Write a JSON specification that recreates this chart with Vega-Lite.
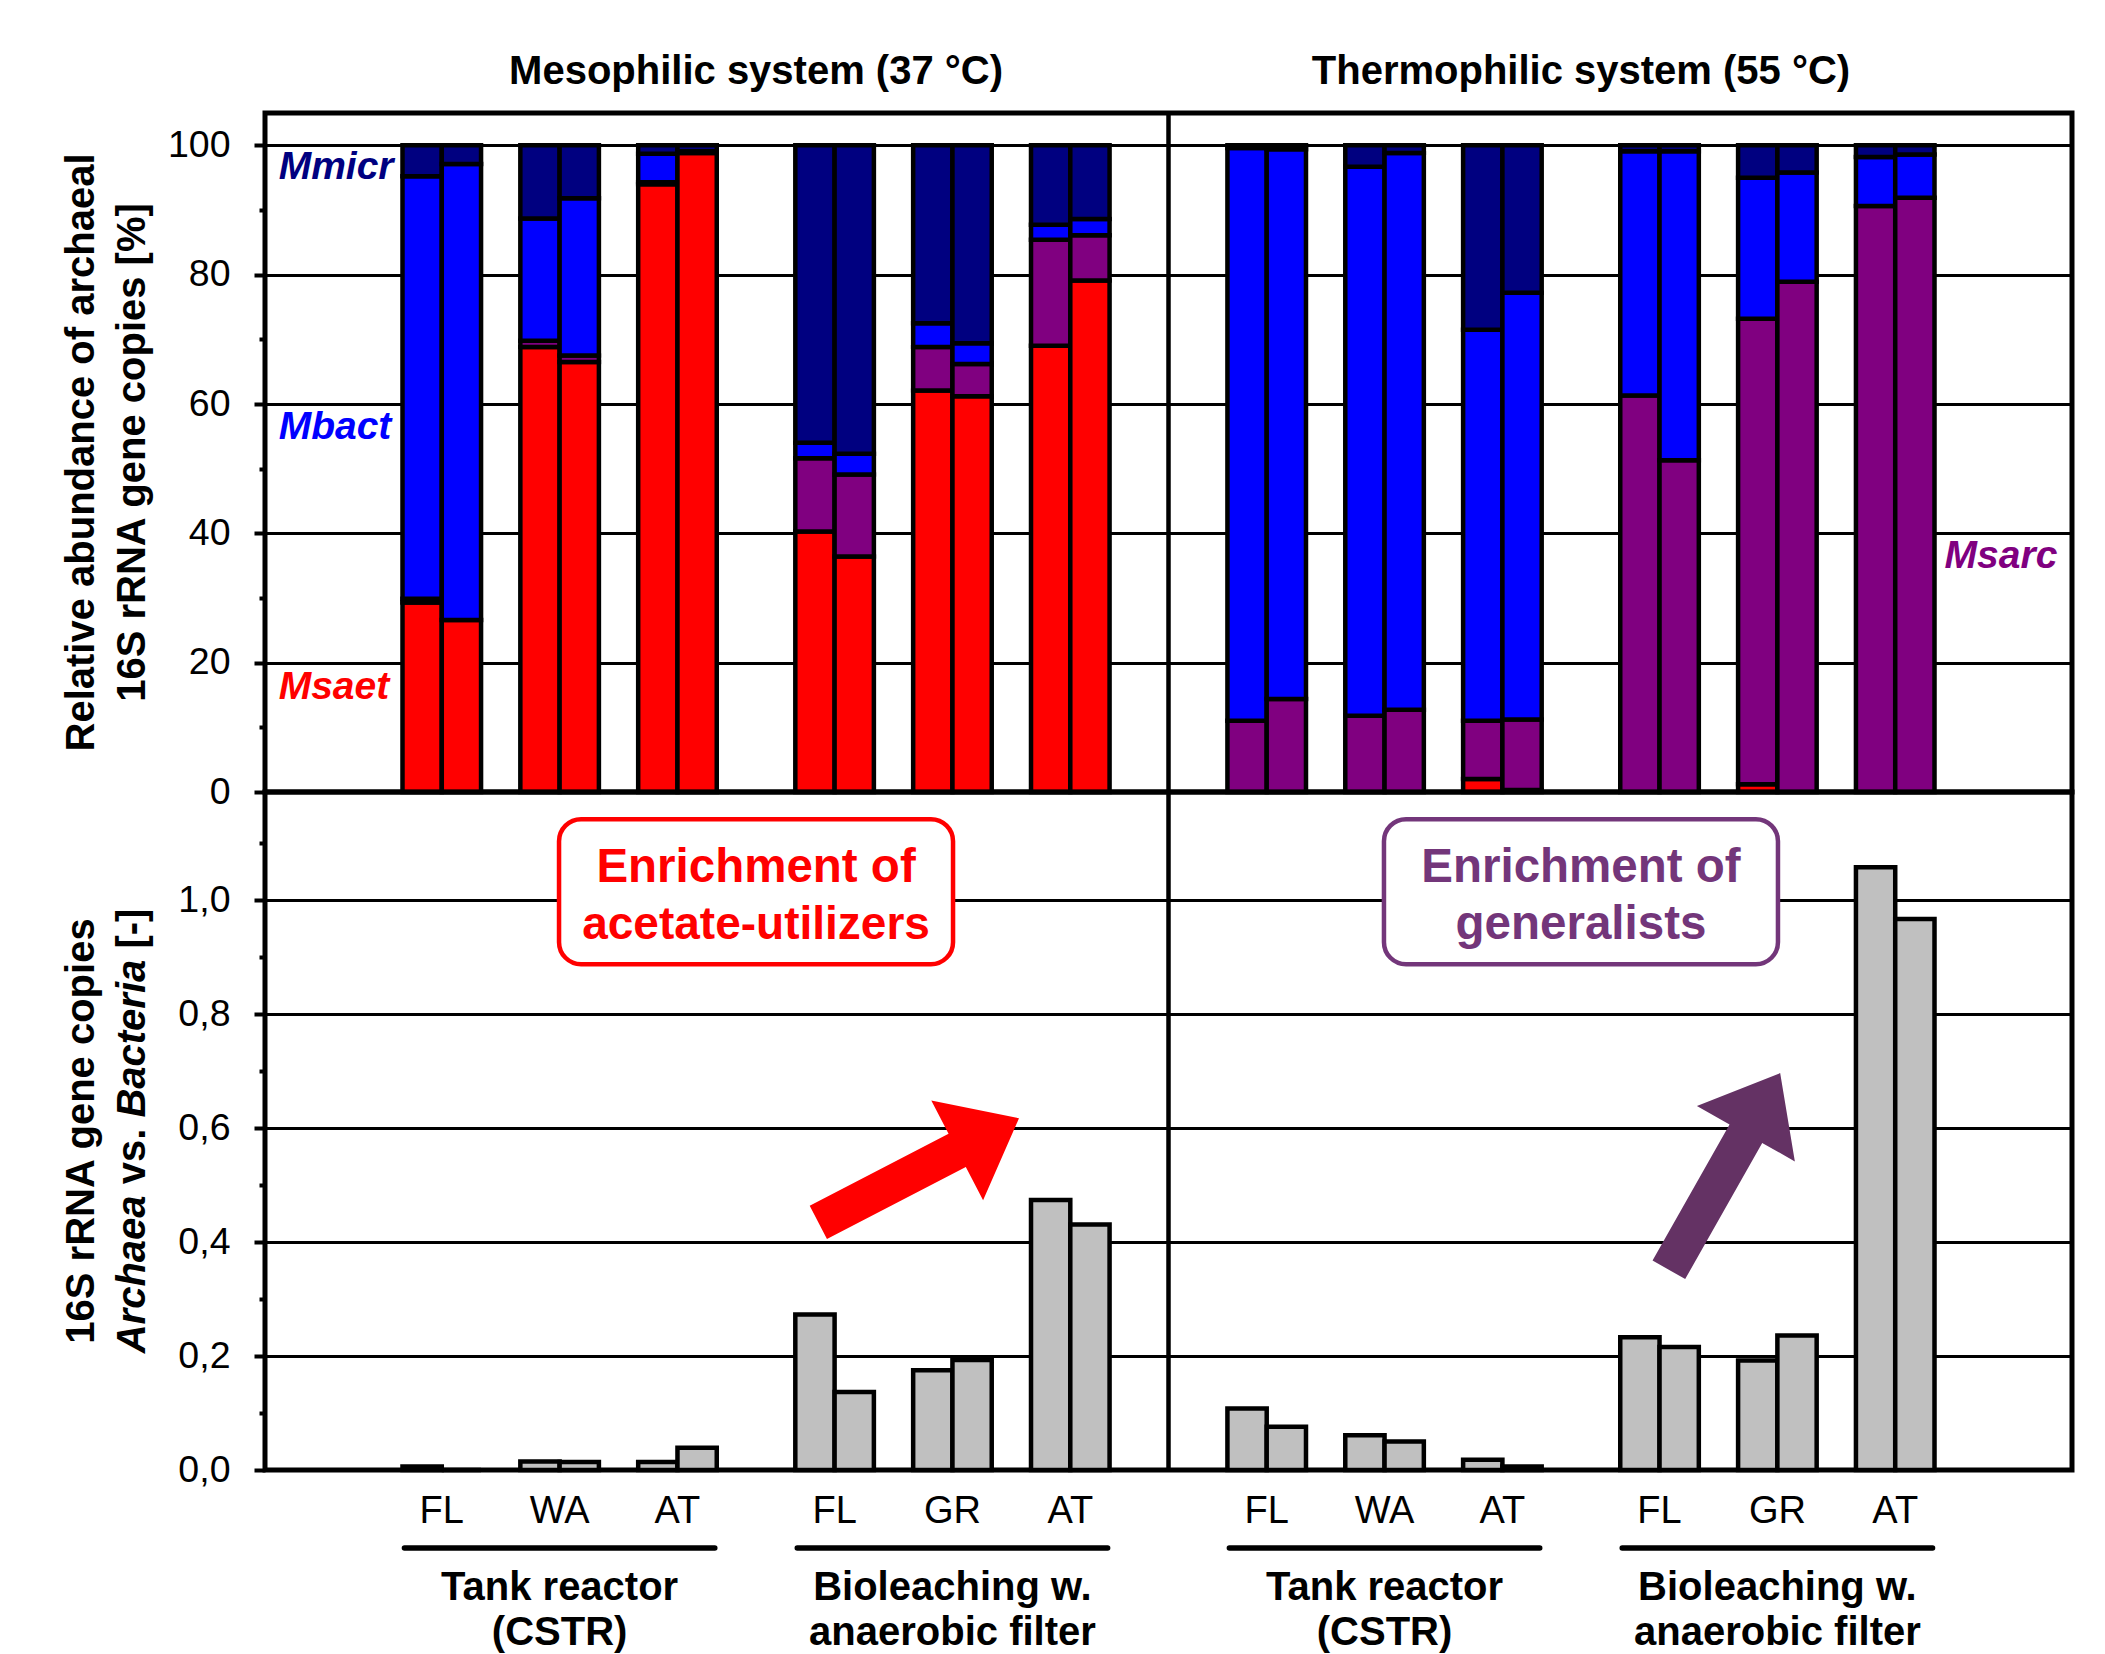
{
  "$schema": "https://vega.github.io/schema/vega-lite/v6.json",
  "background": "white",
  "padding": {"left": 59, "top": 49, "right": 10, "bottom": 0},
  "spacing": 0,
  "bounds": "flush",
  "config": {
    "font": "Liberation Sans",
    "view": {"stroke": "black", "strokeWidth": 5}
  },
  "datasets": {
    "comp": [
      {"bar": "M-T-FL-1", "species": "Msaet", "pct": 29.3},
      {"bar": "M-T-FL-1", "species": "Msarc", "pct": 0.6},
      {"bar": "M-T-FL-1", "species": "Mbact", "pct": 65.3},
      {"bar": "M-T-FL-1", "species": "Mmicr", "pct": 4.8},
      {"bar": "M-T-FL-2", "species": "Msaet", "pct": 26.6},
      {"bar": "M-T-FL-2", "species": "Mbact", "pct": 70.5},
      {"bar": "M-T-FL-2", "species": "Mmicr", "pct": 2.9},
      {"bar": "M-T-WA-1", "species": "Msaet", "pct": 68.8},
      {"bar": "M-T-WA-1", "species": "Msarc", "pct": 1.0},
      {"bar": "M-T-WA-1", "species": "Mbact", "pct": 18.9},
      {"bar": "M-T-WA-1", "species": "Mmicr", "pct": 11.3},
      {"bar": "M-T-WA-2", "species": "Msaet", "pct": 66.5},
      {"bar": "M-T-WA-2", "species": "Msarc", "pct": 1.0},
      {"bar": "M-T-WA-2", "species": "Mbact", "pct": 24.3},
      {"bar": "M-T-WA-2", "species": "Mmicr", "pct": 8.2},
      {"bar": "M-T-AT-1", "species": "Msaet", "pct": 94.0},
      {"bar": "M-T-AT-1", "species": "Msarc", "pct": 0.3},
      {"bar": "M-T-AT-1", "species": "Mbact", "pct": 4.4},
      {"bar": "M-T-AT-1", "species": "Mmicr", "pct": 1.3},
      {"bar": "M-T-AT-2", "species": "Msaet", "pct": 98.8},
      {"bar": "M-T-AT-2", "species": "Mbact", "pct": 0.3},
      {"bar": "M-T-AT-2", "species": "Mmicr", "pct": 0.9},
      {"bar": "M-B-FL-1", "species": "Msaet", "pct": 40.3},
      {"bar": "M-B-FL-1", "species": "Msarc", "pct": 11.3},
      {"bar": "M-B-FL-1", "species": "Mbact", "pct": 2.4},
      {"bar": "M-B-FL-1", "species": "Mmicr", "pct": 46.0},
      {"bar": "M-B-FL-2", "species": "Msaet", "pct": 36.4},
      {"bar": "M-B-FL-2", "species": "Msarc", "pct": 12.7},
      {"bar": "M-B-FL-2", "species": "Mbact", "pct": 3.2},
      {"bar": "M-B-FL-2", "species": "Mmicr", "pct": 47.7},
      {"bar": "M-B-GR-1", "species": "Msaet", "pct": 62.1},
      {"bar": "M-B-GR-1", "species": "Msarc", "pct": 6.7},
      {"bar": "M-B-GR-1", "species": "Mbact", "pct": 3.7},
      {"bar": "M-B-GR-1", "species": "Mmicr", "pct": 27.5},
      {"bar": "M-B-GR-2", "species": "Msaet", "pct": 61.2},
      {"bar": "M-B-GR-2", "species": "Msarc", "pct": 5.0},
      {"bar": "M-B-GR-2", "species": "Mbact", "pct": 3.2},
      {"bar": "M-B-GR-2", "species": "Mmicr", "pct": 30.6},
      {"bar": "M-B-AT-1", "species": "Msaet", "pct": 69.0},
      {"bar": "M-B-AT-1", "species": "Msarc", "pct": 16.4},
      {"bar": "M-B-AT-1", "species": "Mbact", "pct": 2.3},
      {"bar": "M-B-AT-1", "species": "Mmicr", "pct": 12.3},
      {"bar": "M-B-AT-2", "species": "Msaet", "pct": 79.1},
      {"bar": "M-B-AT-2", "species": "Msarc", "pct": 7.0},
      {"bar": "M-B-AT-2", "species": "Mbact", "pct": 2.5},
      {"bar": "M-B-AT-2", "species": "Mmicr", "pct": 11.4},
      {"bar": "T-T-FL-1", "species": "Msarc", "pct": 11.0},
      {"bar": "T-T-FL-1", "species": "Mbact", "pct": 88.6},
      {"bar": "T-T-FL-1", "species": "Mmicr", "pct": 0.4},
      {"bar": "T-T-FL-2", "species": "Msarc", "pct": 14.4},
      {"bar": "T-T-FL-2", "species": "Mbact", "pct": 85.0},
      {"bar": "T-T-FL-2", "species": "Mmicr", "pct": 0.6},
      {"bar": "T-T-WA-1", "species": "Msarc", "pct": 11.8},
      {"bar": "T-T-WA-1", "species": "Mbact", "pct": 84.9},
      {"bar": "T-T-WA-1", "species": "Mmicr", "pct": 3.3},
      {"bar": "T-T-WA-2", "species": "Msarc", "pct": 12.7},
      {"bar": "T-T-WA-2", "species": "Mbact", "pct": 86.1},
      {"bar": "T-T-WA-2", "species": "Mmicr", "pct": 1.2},
      {"bar": "T-T-AT-1", "species": "Msaet", "pct": 2.0},
      {"bar": "T-T-AT-1", "species": "Msarc", "pct": 9.0},
      {"bar": "T-T-AT-1", "species": "Mbact", "pct": 60.5},
      {"bar": "T-T-AT-1", "species": "Mmicr", "pct": 28.5},
      {"bar": "T-T-AT-2", "species": "Msaet", "pct": 0.3},
      {"bar": "T-T-AT-2", "species": "Msarc", "pct": 10.9},
      {"bar": "T-T-AT-2", "species": "Mbact", "pct": 66.0},
      {"bar": "T-T-AT-2", "species": "Mmicr", "pct": 22.8},
      {"bar": "T-B-FL-1", "species": "Msarc", "pct": 61.3},
      {"bar": "T-B-FL-1", "species": "Mbact", "pct": 37.8},
      {"bar": "T-B-FL-1", "species": "Mmicr", "pct": 0.9},
      {"bar": "T-B-FL-2", "species": "Msarc", "pct": 51.3},
      {"bar": "T-B-FL-2", "species": "Mbact", "pct": 47.8},
      {"bar": "T-B-FL-2", "species": "Mmicr", "pct": 0.9},
      {"bar": "T-B-GR-1", "species": "Msaet", "pct": 1.2},
      {"bar": "T-B-GR-1", "species": "Msarc", "pct": 72.0},
      {"bar": "T-B-GR-1", "species": "Mbact", "pct": 21.8},
      {"bar": "T-B-GR-1", "species": "Mmicr", "pct": 5.0},
      {"bar": "T-B-GR-2", "species": "Msarc", "pct": 78.9},
      {"bar": "T-B-GR-2", "species": "Mbact", "pct": 16.9},
      {"bar": "T-B-GR-2", "species": "Mmicr", "pct": 4.2},
      {"bar": "T-B-AT-1", "species": "Msarc", "pct": 90.6},
      {"bar": "T-B-AT-1", "species": "Mbact", "pct": 7.6},
      {"bar": "T-B-AT-1", "species": "Mmicr", "pct": 1.8},
      {"bar": "T-B-AT-2", "species": "Msarc", "pct": 91.9},
      {"bar": "T-B-AT-2", "species": "Mbact", "pct": 6.7},
      {"bar": "T-B-AT-2", "species": "Mmicr", "pct": 1.4}
    ],
    "ratio": [
      {"bar": "M-T-FL-1", "ratio": 0.006},
      {"bar": "M-T-FL-2", "ratio": 0.0},
      {"bar": "M-T-WA-1", "ratio": 0.015},
      {"bar": "M-T-WA-2", "ratio": 0.014},
      {"bar": "M-T-AT-1", "ratio": 0.014},
      {"bar": "M-T-AT-2", "ratio": 0.039},
      {"bar": "M-B-FL-1", "ratio": 0.273},
      {"bar": "M-B-FL-2", "ratio": 0.137},
      {"bar": "M-B-GR-1", "ratio": 0.175},
      {"bar": "M-B-GR-2", "ratio": 0.193},
      {"bar": "M-B-AT-1", "ratio": 0.474},
      {"bar": "M-B-AT-2", "ratio": 0.431},
      {"bar": "T-T-FL-1", "ratio": 0.108},
      {"bar": "T-T-FL-2", "ratio": 0.076},
      {"bar": "T-T-WA-1", "ratio": 0.061},
      {"bar": "T-T-WA-2", "ratio": 0.05},
      {"bar": "T-T-AT-1", "ratio": 0.018},
      {"bar": "T-T-AT-2", "ratio": 0.006},
      {"bar": "T-B-FL-1", "ratio": 0.233},
      {"bar": "T-B-FL-2", "ratio": 0.216},
      {"bar": "T-B-GR-1", "ratio": 0.192},
      {"bar": "T-B-GR-2", "ratio": 0.236},
      {"bar": "T-B-AT-1", "ratio": 1.058},
      {"bar": "T-B-AT-2", "ratio": 0.967}
    ],
    "cats": [
      {"at": "M-T-FL-2", "label": "FL"},
      {"at": "M-T-WA-2", "label": "WA"},
      {"at": "M-T-AT-2", "label": "AT"},
      {"at": "M-B-FL-2", "label": "FL"},
      {"at": "M-B-GR-2", "label": "GR"},
      {"at": "M-B-AT-2", "label": "AT"},
      {"at": "T-T-FL-2", "label": "FL"},
      {"at": "T-T-WA-2", "label": "WA"},
      {"at": "T-T-AT-2", "label": "AT"},
      {"at": "T-B-FL-2", "label": "FL"},
      {"at": "T-B-GR-2", "label": "GR"},
      {"at": "T-B-AT-2", "label": "AT"}
    ],
    "groups": [
      {"from": "M-T-FL-1", "to": "M-T-AT-2", "at": "M-T-WA-2", "l1": "Tank reactor", "l2": "(CSTR)"},
      {"from": "M-B-FL-1", "to": "M-B-AT-2", "at": "M-B-GR-2", "l1": "Bioleaching w.", "l2": "anaerobic filter"},
      {"from": "T-T-FL-1", "to": "T-T-AT-2", "at": "T-T-WA-2", "l1": "Tank reactor", "l2": "(CSTR)"},
      {"from": "T-B-FL-1", "to": "T-B-AT-2", "at": "T-B-GR-2", "l1": "Bioleaching w.", "l2": "anaerobic filter"}
    ]
  },
  "vconcat": [
    {
      "width": 1807,
      "height": 679,
      "layer": [
        {
          "data": {"name": "comp"},
          "transform": [{"calculate": "indexof(['Msaet','Msarc','Mbact','Mmicr'], datum.species)", "as": "stackOrder"}],
          "mark": {"type": "bar", "stroke": "black", "strokeWidth": 4.5},
          "encoding": {
            "x": {"field": "bar", "type": "nominal", "axis": null,
              "scale": {"domain": ["s1","s2","s3","M-T-FL-1","M-T-FL-2","M-g1","M-T-WA-1","M-T-WA-2","M-g2","M-T-AT-1","M-T-AT-2","M-g3","M-g4","M-B-FL-1","M-B-FL-2","M-g5","M-B-GR-1","M-B-GR-2","M-g6","M-B-AT-1","M-B-AT-2","M-g7","mid","T-g0","T-T-FL-1","T-T-FL-2","T-g1","T-T-WA-1","T-T-WA-2","T-g2","T-T-AT-1","T-T-AT-2","T-g3","T-g4","T-B-FL-1","T-B-FL-2","T-g5","T-B-GR-1","T-B-GR-2","T-g6","T-B-AT-1","T-B-AT-2","s4","s5","s6"], "paddingInner": 0, "paddingOuter": 0.5}},
            "y": {"field": "pct", "type": "quantitative", "stack": "zero", "title": null,
              "scale": {"domain": [0, 105], "nice": false, "zero": true},
              "axis": {
                "values": [0,10,20,30,40,50,60,70,80,90,100],
                "domain": false,
                "grid": true, "gridColor": "black", "gridWidth": 3,
                "gridOpacity": {"condition": {"test": "datum.value % 20 === 0 && datum.value > 0", "value": 1}, "value": 0},
                "ticks": true, "tickColor": "black", "tickWidth": 4,
                "tickSize": {"condition": {"test": "datum.value % 20 === 0", "value": 11}, "value": 6},
                "labelExpr": "datum.value % 20 === 0 ? datum.label : ''",
                "labelFont": "Liberation Sans", "labelFontSize": 37.5, "labelColor": "black",
                "labelPadding": 24, "labelOverlap": false, "title": null
              }},
            "color": {"field": "species", "type": "nominal", "legend": null,
              "scale": {"domain": ["Msaet","Msarc","Mbact","Mmicr"], "range": ["#FF0000","#800080","#0000FF","#000080"]}},
            "order": {"field": "stackOrder", "type": "quantitative"}
          }
        },
        {
          "data": {"values": [{}]},
          "mark": {"type": "rule", "strokeWidth": 4.5, "color": "black"},
          "encoding": {"x": {"datum": "mid", "bandPosition": 0.5, "axis": null}}
        },
        {
          "data": {"values": [{}]},
          "mark": {"type": "text", "text": "Mesophilic system (37 °C)", "fontSize": 40, "fontWeight": "bold", "color": "black", "align": "center", "baseline": "middle", "dy": -41},
          "encoding": {"x": {"datum": "M-g4", "bandPosition": 0, "axis": null}, "y": {"datum": 105, "title": null}}
        },
        {
          "data": {"values": [{}]},
          "mark": {"type": "text", "text": "Thermophilic system (55 °C)", "fontSize": 40, "fontWeight": "bold", "color": "black", "align": "center", "baseline": "middle", "dy": -41},
          "encoding": {"x": {"datum": "T-g4", "bandPosition": 0, "axis": null}, "y": {"datum": 105, "title": null}}
        },
        {
          "data": {"values": [{}]},
          "mark": {"type": "text", "text": "Mmicr", "fontSize": 39, "fontWeight": "bold", "fontStyle": "italic", "color": "#000080", "align": "left", "baseline": "middle", "dx": -6},
          "encoding": {"x": {"datum": "s1", "bandPosition": 0, "axis": null}, "y": {"datum": 96.7, "title": null}}
        },
        {
          "data": {"values": [{}]},
          "mark": {"type": "text", "text": "Mbact", "fontSize": 39, "fontWeight": "bold", "fontStyle": "italic", "color": "#0000FF", "align": "left", "baseline": "middle", "dx": -6},
          "encoding": {"x": {"datum": "s1", "bandPosition": 0, "axis": null}, "y": {"datum": 56.4, "title": null}}
        },
        {
          "data": {"values": [{}]},
          "mark": {"type": "text", "text": "Msaet", "fontSize": 39, "fontWeight": "bold", "fontStyle": "italic", "color": "#FF0000", "align": "left", "baseline": "middle", "dx": -6},
          "encoding": {"x": {"datum": "s1", "bandPosition": 0, "axis": null}, "y": {"datum": 16.2, "title": null}}
        },
        {
          "data": {"values": [{}]},
          "mark": {"type": "text", "text": "Msarc", "fontSize": 39, "fontWeight": "bold", "fontStyle": "italic", "color": "#800080", "align": "right", "baseline": "middle", "dx": 5},
          "encoding": {"x": {"datum": "s6", "bandPosition": 1, "axis": null}, "y": {"datum": 36.5, "title": null}}
        },
        {
          "data": {"values": [{}]},
          "mark": {"type": "text", "text": "Relative abundance of archaeal", "fontSize": 40, "fontWeight": "bold", "color": "black", "align": "center", "baseline": "middle", "angle": 270, "dy": -203},
          "encoding": {"x": {"datum": "s1", "bandPosition": 0, "axis": null}, "y": {"datum": 52.5, "title": null}}
        },
        {
          "data": {"values": [{}]},
          "mark": {"type": "text", "text": "16S rRNA gene copies [%]", "fontSize": 40, "fontWeight": "bold", "color": "black", "align": "center", "baseline": "middle", "angle": 270, "dy": -152},
          "encoding": {"x": {"datum": "s1", "bandPosition": 0, "axis": null}, "y": {"datum": 52.5, "title": null}}
        }
      ]
    },
    {
      "width": 1807,
      "height": 678,
      "layer": [
        {
          "data": {"name": "ratio"},
          "mark": {"type": "bar", "fill": "#C0C0C0", "stroke": "black", "strokeWidth": 4.5},
          "encoding": {
            "x": {"field": "bar", "type": "nominal", "axis": null,
              "scale": {"domain": ["s1","s2","s3","M-T-FL-1","M-T-FL-2","M-g1","M-T-WA-1","M-T-WA-2","M-g2","M-T-AT-1","M-T-AT-2","M-g3","M-g4","M-B-FL-1","M-B-FL-2","M-g5","M-B-GR-1","M-B-GR-2","M-g6","M-B-AT-1","M-B-AT-2","M-g7","mid","T-g0","T-T-FL-1","T-T-FL-2","T-g1","T-T-WA-1","T-T-WA-2","T-g2","T-T-AT-1","T-T-AT-2","T-g3","T-g4","T-B-FL-1","T-B-FL-2","T-g5","T-B-GR-1","T-B-GR-2","T-g6","T-B-AT-1","T-B-AT-2","s4","s5","s6"], "paddingInner": 0, "paddingOuter": 0.5}},
            "y": {"field": "ratio", "type": "quantitative", "title": null,
              "scale": {"domain": [0, 1.19], "nice": false, "zero": true},
              "axis": {
                "values": [0,0.1,0.2,0.3,0.4,0.5,0.6,0.7,0.8,0.9,1.0,1.1],
                "domain": false,
                "grid": true, "gridColor": "black", "gridWidth": 3,
                "gridOpacity": {"condition": {"test": "round(datum.value*10) % 2 === 0 && datum.value > 0", "value": 1}, "value": 0},
                "ticks": true, "tickColor": "black", "tickWidth": 4,
                "tickSize": {"condition": {"test": "round(datum.value*10) % 2 === 0", "value": 11}, "value": 6},
                "labelExpr": "round(datum.value*10) % 2 === 0 ? replace(format(datum.value, '.1f'), '.', ',') : ''",
                "labelFont": "Liberation Sans", "labelFontSize": 37.5, "labelColor": "black",
                "labelPadding": 24, "labelOverlap": false, "title": null
              }}
          }
        },
        {
          "data": {"values": [{}]},
          "mark": {"type": "rule", "strokeWidth": 4.5, "color": "black"},
          "encoding": {"x": {"datum": "mid", "bandPosition": 0.5, "axis": null}}
        },
        {
          "data": {"values": [{}]},
          "mark": {"type": "point", "shape": "M -0.888,-0.368 L 0.888,-0.368 A 0.112,0.112 0 0 1 1,-0.256 L 1,0.256 A 0.112,0.112 0 0 1 0.888,0.368 L -0.888,0.368 A 0.112,0.112 0 0 1 -1,0.256 L -1,-0.256 A 0.112,0.112 0 0 1 -0.888,-0.368 Z", "size": 155236, "fill": "white", "filled": true, "stroke": "#FF0000", "strokeWidth": 4.5, "opacity": 1},
          "encoding": {"x": {"datum": "M-g4", "bandPosition": 0, "axis": null}, "y": {"datum": 1.015, "title": null}}
        },
        {
          "data": {"values": [{}]},
          "mark": {"type": "point", "shape": "M -0.888,-0.368 L 0.888,-0.368 A 0.112,0.112 0 0 1 1,-0.256 L 1,0.256 A 0.112,0.112 0 0 1 0.888,0.368 L -0.888,0.368 A 0.112,0.112 0 0 1 -1,0.256 L -1,-0.256 A 0.112,0.112 0 0 1 -0.888,-0.368 Z", "size": 155236, "fill": "white", "filled": true, "stroke": "#73367A", "strokeWidth": 4.5, "opacity": 1},
          "encoding": {"x": {"datum": "T-g4", "bandPosition": 0, "axis": null}, "y": {"datum": 1.015, "title": null}}
        },
        {
          "data": {"values": [{}]},
          "mark": {"type": "text", "text": "Enrichment of", "fontSize": 47.5, "fontWeight": "bold", "color": "#FF0000", "align": "center", "baseline": "alphabetic", "dy": -10},
          "encoding": {"x": {"datum": "M-g4", "bandPosition": 0, "axis": null}, "y": {"datum": 1.015, "title": null}}
        },
        {
          "data": {"values": [{}]},
          "mark": {"type": "text", "text": "acetate-utilizers", "fontSize": 46, "fontWeight": "bold", "color": "#FF0000", "align": "center", "baseline": "alphabetic", "dy": 47},
          "encoding": {"x": {"datum": "M-g4", "bandPosition": 0, "axis": null}, "y": {"datum": 1.015, "title": null}}
        },
        {
          "data": {"values": [{}]},
          "mark": {"type": "text", "text": "Enrichment of", "fontSize": 47.5, "fontWeight": "bold", "color": "#73367A", "align": "center", "baseline": "alphabetic", "dy": -10},
          "encoding": {"x": {"datum": "T-g4", "bandPosition": 0, "axis": null}, "y": {"datum": 1.015, "title": null}}
        },
        {
          "data": {"values": [{}]},
          "mark": {"type": "text", "text": "generalists", "fontSize": 47.5, "fontWeight": "bold", "color": "#73367A", "align": "center", "baseline": "alphabetic", "dy": 47},
          "encoding": {"x": {"datum": "T-g4", "bandPosition": 0, "axis": null}, "y": {"datum": 1.015, "title": null}}
        },
        {
          "data": {"values": [{}]},
          "mark": {"type": "point", "shape": "M -1,-0.166 L 0.384,-0.166 L 0.384,-0.498 L 1,0 L 0.384,0.498 L 0.384,0.166 L -1,0.166 Z", "size": 51076, "angle": 332.6, "fill": "#FF0000", "filled": true, "strokeWidth": 0, "opacity": 1, "xOffset": 5.5},
          "encoding": {"x": {"datum": "M-B-GR-1", "bandPosition": 0, "axis": null}, "y": {"datum": 0.526, "title": null}}
        },
        {
          "data": {"values": [{}]},
          "mark": {"type": "point", "shape": "M -1,-0.166 L 0.384,-0.166 L 0.384,-0.498 L 1,0 L 0.384,0.498 L 0.384,0.166 L -1,0.166 Z", "size": 51076, "angle": 299.5, "fill": "#643264", "filled": true, "strokeWidth": 0, "opacity": 1, "xOffset": 25.7},
          "encoding": {"x": {"datum": "T-g5", "bandPosition": 0, "axis": null}, "y": {"datum": 0.524, "title": null}}
        },
        {
          "data": {"name": "cats"},
          "mark": {"type": "text", "fontSize": 38, "color": "black", "align": "center", "baseline": "middle", "dy": 42},
          "encoding": {"x": {"field": "at", "type": "nominal", "bandPosition": 0, "axis": null}, "y": {"datum": 0, "title": null}, "text": {"field": "label"}}
        },
        {
          "data": {"name": "groups"},
          "mark": {"type": "rule", "strokeWidth": 5.5, "strokeCap": "round", "color": "black", "yOffset": 78},
          "encoding": {"x": {"field": "from", "type": "nominal", "bandPosition": 0.05, "axis": null}, "x2": {"field": "to", "bandPosition": 0.95}, "y": {"datum": 0, "title": null}}
        },
        {
          "data": {"name": "groups"},
          "mark": {"type": "text", "fontSize": 40, "fontWeight": "bold", "color": "black", "align": "center", "baseline": "middle", "dy": 118},
          "encoding": {"x": {"field": "at", "type": "nominal", "bandPosition": 0, "axis": null}, "y": {"datum": 0, "title": null}, "text": {"field": "l1"}}
        },
        {
          "data": {"name": "groups"},
          "mark": {"type": "text", "fontSize": 40, "fontWeight": "bold", "color": "black", "align": "center", "baseline": "middle", "dy": 163},
          "encoding": {"x": {"field": "at", "type": "nominal", "bandPosition": 0, "axis": null}, "y": {"datum": 0, "title": null}, "text": {"field": "l2"}}
        },
        {
          "data": {"values": [{}]},
          "mark": {"type": "text", "text": "16S rRNA gene copies", "fontSize": 40, "fontWeight": "bold", "color": "black", "align": "center", "baseline": "middle", "angle": 270, "dy": -203},
          "encoding": {"x": {"datum": "s1", "bandPosition": 0, "axis": null}, "y": {"datum": 0.595, "title": null}}
        },
        {
          "data": {"values": [{}]},
          "mark": {"type": "text", "text": "Archaea", "fontSize": 40, "fontWeight": "bold", "fontStyle": "italic", "color": "black", "align": "left", "baseline": "middle", "angle": 270, "dy": -152, "dx": -222.3},
          "encoding": {"x": {"datum": "s1", "bandPosition": 0, "axis": null}, "y": {"datum": 0.595, "title": null}}
        },
        {
          "data": {"values": [{}]},
          "mark": {"type": "text", "text": "vs.", "fontSize": 40, "fontWeight": "bold", "color": "black", "align": "left", "baseline": "middle", "angle": 270, "dy": -152, "dx": -53.3},
          "encoding": {"x": {"datum": "s1", "bandPosition": 0, "axis": null}, "y": {"datum": 0.595, "title": null}}
        },
        {
          "data": {"values": [{}]},
          "mark": {"type": "text", "text": "Bacteria", "fontSize": 40, "fontWeight": "bold", "fontStyle": "italic", "color": "black", "align": "left", "baseline": "middle", "angle": 270, "dy": -152, "dx": 13.4},
          "encoding": {"x": {"datum": "s1", "bandPosition": 0, "axis": null}, "y": {"datum": 0.595, "title": null}}
        },
        {
          "data": {"values": [{}]},
          "mark": {"type": "text", "text": "[-]", "fontSize": 40, "fontWeight": "bold", "color": "black", "align": "left", "baseline": "middle", "angle": 270, "dy": -152, "dx": 182.4},
          "encoding": {"x": {"datum": "s1", "bandPosition": 0, "axis": null}, "y": {"datum": 0.595, "title": null}}
        }
      ]
    }
  ]
}
